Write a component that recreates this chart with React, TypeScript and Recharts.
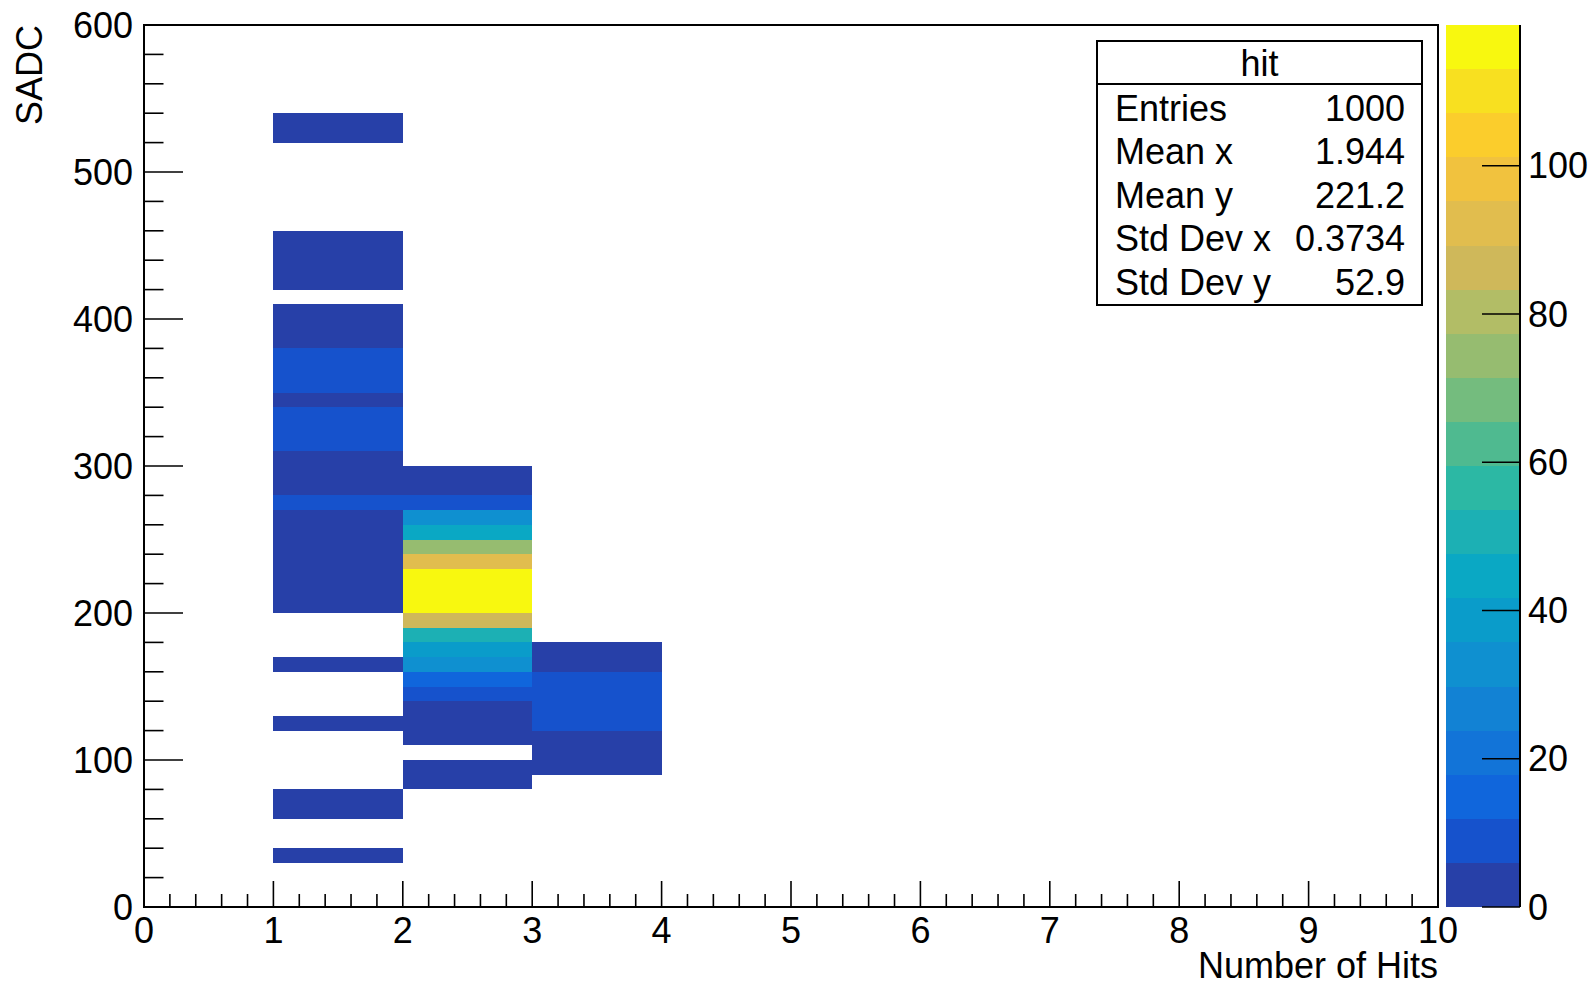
import React from "react";
import { ScatterChart, Scatter, XAxis, YAxis, ReferenceArea } from "recharts";

const FONT = "'Liberation Sans', Arial, Helvetica, sans-serif";

// x bins (number of hits) are 1 wide, SADC bins are 10 wide (low edges below)
const HIT_BINS = [1, 2, 3];

const SADC_HITS1 = [30, 60, 70, 120, 160, 200, 210, 220, 230, 240, 250, 260, 270, 280, 290, 300, 310, 320, 330, 340, 350, 360, 370, 380, 390, 400, 420, 430, 440, 450, 520, 530];
const COUNT_HITS1 = [1, 2, 1, 1, 1, 2, 3, 2, 3, 2, 2, 3, 7, 3, 2, 3, 7, 8, 7, 3, 7, 7, 7, 2, 3, 2, 1, 2, 1, 1, 1, 1];

const SADC_HITS2 = [80, 90, 110, 120, 130, 140, 150, 160, 170, 180, 190, 200, 210, 220, 230, 240, 250, 260, 270, 280, 290];
const COUNT_HITS2 = [2, 3, 2, 4, 3, 9, 15, 32, 39, 51, 86, 114, 119, 116, 93, 74, 45, 33, 8, 4, 2];

const SADC_HITS3 = [90, 100, 110, 120, 130, 140, 150, 160, 170];
const COUNT_HITS3 = [2, 3, 2, 7, 8, 7, 7, 3, 2];

const SADC_BY_HIT = [SADC_HITS1, SADC_HITS2, SADC_HITS3];
const COUNT_BY_HIT = [COUNT_HITS1, COUNT_HITS2, COUNT_HITS3];

const X_MAJOR = [0, 1, 2, 3, 4, 5, 6, 7, 8, 9, 10];
const Y_MAJOR = [0, 100, 200, 300, 400, 500, 600];
const Z_MAJOR = [0, 20, 40, 60, 80, 100];
const Z_MAX = 119;

// 20 contour colours, bottom to top
const PALETTE = [
  "#2740a8", "#1652cc", "#1066dc", "#1274d8", "#1282d4",
  "#0f90d0", "#0a9cca", "#0aa8c4", "#1cb0b4", "#2cb8a4",
  "#4fba90", "#74bc7e", "#96bc70", "#b2bd66", "#cfb85a",
  "#e1bd4e", "#f1c23e", "#fbcd2c", "#f8e020", "#f8f80f",
];

const STATS_LABELS = ["Entries", "Mean x", "Mean y", "Std Dev x", "Std Dev y"];
const STATS_VALUES = ["1000", "1.944", "221.2", "0.3734", "52.9"];

const cells = HIT_BINS.flatMap((hx, i) =>
  SADC_BY_HIT[i].map((s, j) => ({ x: hx, y: s, n: COUNT_BY_HIT[i][j] }))
);

const levelStep = Z_MAX / PALETTE.length;
const colorFor = (n: number) =>
  PALETTE[Math.min(PALETTE.length - 1, Math.floor(n / levelStep))];

const xTicks = Array.from({ length: 51 }, (_, i) => i / 5);
const yTicks = Array.from({ length: 31 }, (_, i) => i * 20);
const levels = PALETTE.map((c, i) => ({ x: 0.5, z: (i + 0.5) * levelStep, lo: i * levelStep, hi: (i + 1) * levelStep, c }));

const XTick = (props: any) => {
  const { x, y, payload } = props;
  const v = payload.value;
  const major = X_MAJOR.some((m) => Math.abs(m - v) < 1e-6);
  return (
    <g>
      <line x1={x} x2={x} y1={y} y2={y - (major ? 26 : 13)} stroke="#000" strokeWidth={1.6} />
      {major && (
        <text x={x} y={y + 23} textAnchor="middle" dominantBaseline="central" fontSize={36} fontFamily={FONT} fill="#000">
          {Math.round(v)}
        </text>
      )}
    </g>
  );
};

const YTick = (props: any) => {
  const { x, y, payload } = props;
  const v = payload.value;
  const major = Y_MAJOR.includes(v);
  return (
    <g>
      <line x1={x} x2={x + (major ? 39 : 19.5)} y1={y} y2={y} stroke="#000" strokeWidth={1.6} />
      {major && (
        <text x={x - 11} y={y} textAnchor="end" dominantBaseline="central" fontSize={36} fontFamily={FONT} fill="#000">
          {v}
        </text>
      )}
    </g>
  );
};

const ZTick = (props: any) => {
  const { x, y, payload } = props;
  return (
    <g>
      <line x1={x} x2={x - 38} y1={y} y2={y} stroke="#000" strokeWidth={1.6} />
      <text x={x + 8} y={y} textAnchor="start" dominantBaseline="central" fontSize={36} fontFamily={FONT} fill="#000">
        {payload.value}
      </text>
    </g>
  );
};

const rowY = [108, 151.5, 195, 238.5, 282];

export default function App() {
  return (
    <div style={{ position: "absolute", left: 0, top: 0, width: 1592, height: 985, background: "#fff", overflow: "hidden" }}>
      <div style={{ position: "absolute", left: 0, top: 0 }}>
        <ScatterChart width={1592} height={985} margin={{ top: 25, right: 154, bottom: 0, left: 0 }}>
          <XAxis
            type="number"
            dataKey="x"
            domain={[0, 10]}
            ticks={xTicks}
            interval={0}
            tick={<XTick />}
            tickLine={false}
            tickSize={0}
            tickMargin={0}
            axisLine={{ stroke: "#000", strokeWidth: 2 }}
            height={78}
            allowDataOverflow
          />
          <YAxis
            type="number"
            dataKey="y"
            domain={[0, 600]}
            ticks={yTicks}
            interval={0}
            tick={<YTick />}
            tickLine={false}
            tickSize={0}
            tickMargin={0}
            axisLine={{ stroke: "#000", strokeWidth: 2 }}
            width={144}
            allowDataOverflow
          />
          <Scatter data={cells} shape={() => <g />} isAnimationActive={false} />
          {cells.map((c, i) => (
            <ReferenceArea
              key={`cell-${i}`}
              x1={c.x}
              x2={c.x + 1}
              y1={c.y}
              y2={c.y + 10}
              fill={colorFor(c.n)}
              fillOpacity={1}
              stroke="none"
              shapeRendering="crispEdges"
            />
          ))}
          <ReferenceArea x1={0} x2={10} y1={0} y2={600} fill="none" fillOpacity={0} stroke="#000" strokeWidth={2} />
        </ScatterChart>
      </div>

      <div style={{ position: "absolute", left: 0, top: 0 }}>
        <ScatterChart width={1592} height={985} margin={{ top: 25, right: 0, bottom: 78, left: 1446 }}>
          <XAxis type="number" dataKey="x" domain={[0, 1]} hide />
          <YAxis
            type="number"
            dataKey="z"
            orientation="right"
            domain={[0, Z_MAX]}
            ticks={Z_MAJOR}
            interval={0}
            tick={<ZTick />}
            tickLine={false}
            tickSize={0}
            tickMargin={0}
            axisLine={{ stroke: "#000", strokeWidth: 2 }}
            width={72}
          />
          <Scatter data={levels} shape={() => <g />} isAnimationActive={false} />
          {levels.map((l, i) => (
            <ReferenceArea key={`lvl-${i}`} x1={0} x2={1} y1={l.lo} y2={l.hi} fill={l.c} fillOpacity={1} stroke="none" shapeRendering="crispEdges" />
          ))}
        </ScatterChart>
      </div>

      <svg width={1592} height={985} style={{ position: "absolute", left: 0, top: 0, pointerEvents: "none" }} fontFamily={FONT}>
        <text x={29} y={25} transform="rotate(-90 29 25)" textAnchor="end" dominantBaseline="central" fontSize={36} fill="#000">
          SADC
        </text>
        <text x={1438} y={978} textAnchor="end" fontSize={36} fill="#000">
          Number of Hits
        </text>
        <rect x={1097} y={41} width={325} height={264} fill="#fff" stroke="#000" strokeWidth={2} />
        <line x1={1097} x2={1422} y1={84} y2={84} stroke="#000" strokeWidth={2} />
        <text x={1259.5} y={63} textAnchor="middle" dominantBaseline="central" fontSize={36} fill="#000">
          hit
        </text>
        {STATS_LABELS.map((lab, i) => (
          <g key={lab}>
            <text x={1115} y={rowY[i]} dominantBaseline="central" fontSize={36} fill="#000">
              {lab}
            </text>
            <text x={1405} y={rowY[i]} textAnchor="end" dominantBaseline="central" fontSize={36} fill="#000">
              {STATS_VALUES[i]}
            </text>
          </g>
        ))}
      </svg>
    </div>
  );
}
